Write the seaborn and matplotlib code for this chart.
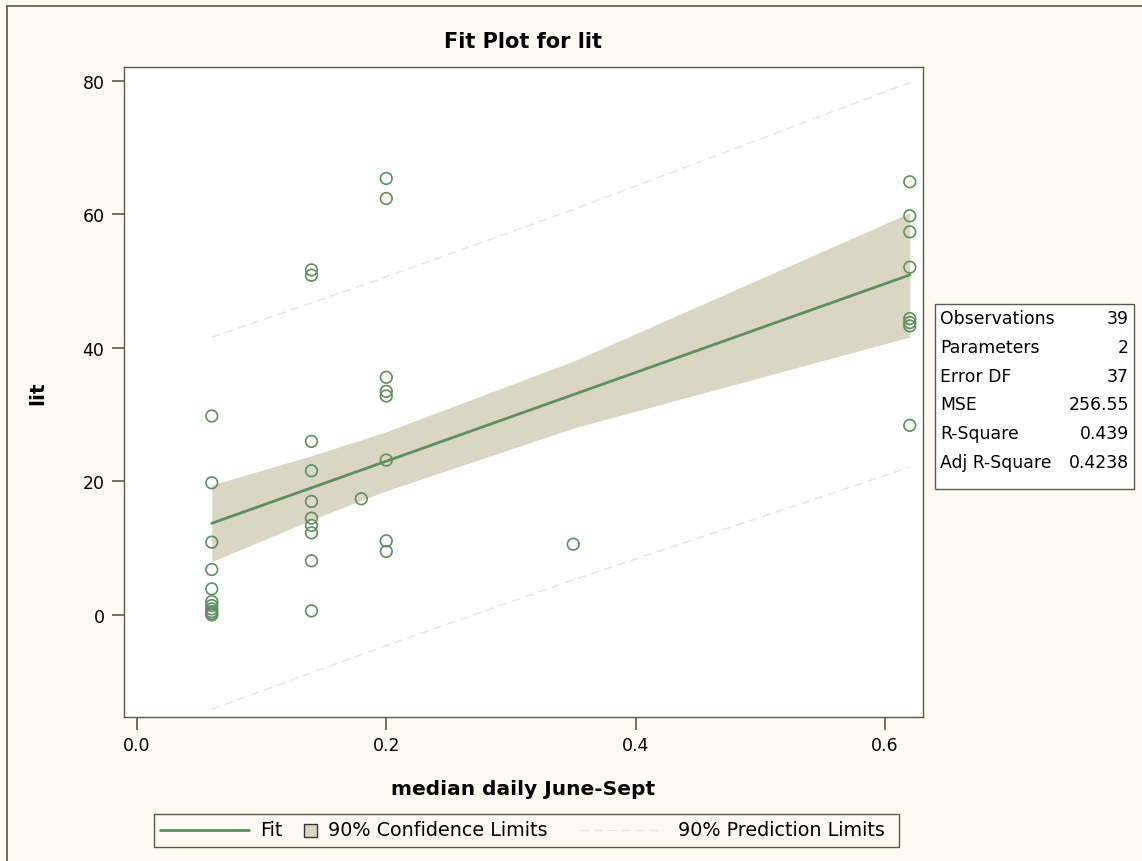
import numpy as np
import pandas as pd
import seaborn as sns
import matplotlib.pyplot as plt
from matplotlib.patches import Rectangle
from matplotlib.lines import Line2D

x_006 = [29.8, 19.8, 10.9, 6.8, 3.9, 2.0, 1.4, 0.9, 0.5, 0.2, 0.0]
x_014 = [51.7, 50.9, 26.0, 21.6, 17.0, 14.5, 13.4, 12.3, 8.1, 0.6]
x_018 = [17.4]
x_020 = [65.4, 62.4, 35.6, 33.5, 32.8, 23.2, 11.1, 9.5]
x_035 = [10.6]
x_062 = [64.9, 59.8, 57.4, 52.1, 44.4, 43.8, 43.3, 28.4]
groups = {0.06: x_006, 0.14: x_014, 0.18: x_018, 0.20: x_020, 0.35: x_035, 0.62: x_062}

stat_names = ["Observations", "Parameters", "Error DF", "MSE", "R-Square", "Adj R-Square"]
stat_values = ["39", "2", "37", "256.55", "0.439", "0.4238"]

x_ticks = [0.0, 0.2, 0.4, 0.6]
y_ticks = [0, 20, 40, 60, 80]

T_CRIT = 1.6871  # t(0.95, 37)

df = pd.DataFrame([(k, v) for k, vals in groups.items() for v in vals], columns=["x", "lit"])

# least squares fit, limits evaluated at the observed x values (like SAS does)
n = len(df)
xbar = df.x.mean()
sxx = ((df.x - xbar) ** 2).sum()
slope = ((df.x - xbar) * (df.lit - df.lit.mean())).sum() / sxx
icpt = df.lit.mean() - slope * xbar
resid = df.lit - (icpt + slope * df.x)
mse = (resid ** 2).sum() / (n - 2)
xs = np.array(sorted(groups.keys()))
fit = icpt + slope * xs
se_mean = np.sqrt(mse * (1 / n + (xs - xbar) ** 2 / sxx))
se_pred = np.sqrt(mse * (1 + 1 / n + (xs - xbar) ** 2 / sxx))
fit_df = pd.DataFrame({"x": xs, "fit": fit})

GREEN = "#5E8F5E"
BAND = "#DAD6C3"
FRAME = "#5B574C"
CREAM = "#FDFAF3"
PRED = "#E2E2E2"

sns.set_theme(style="white")
plt.rcParams["font.family"] = ["DejaVu Sans"]
plt.rcParams["text.color"] = "black"
plt.rcParams["axes.labelcolor"] = "black"

W, H = 1142, 862
fig = plt.figure(figsize=(W / 100, H / 100), dpi=100, facecolor=CREAM)


def fx(px):
    return px / W


def fy(py):
    return 1 - py / H


ax = fig.add_axes([fx(124), fy(718), fx(923) - fx(124), (718 - 68) / H])
ax.set_facecolor("white")

ax.fill_between(xs, fit - T_CRIT * se_mean, fit + T_CRIT * se_mean, color=BAND, lw=0, zorder=1)
ax.plot(xs, fit - T_CRIT * se_pred, color=PRED, lw=1, ls=(0, (6, 4)), zorder=1)
ax.plot(xs, fit + T_CRIT * se_pred, color=PRED, lw=1, ls=(0, (6, 4)), zorder=1)
sns.lineplot(data=fit_df, x="x", y="fit", color=GREEN, lw=2, ax=ax, zorder=2)
sns.scatterplot(data=df, x="x", y="lit", ax=ax, marker="o", s=70,
                facecolor="none", edgecolor=GREEN, linewidth=1.2, zorder=3)

ax.set_xlim(-0.0104, 0.6306)
ax.set_ylim(-15.3, 82.1)
ax.set_xticks(x_ticks)
ax.set_xticklabels([f"{t:.1f}" for t in x_ticks])
ax.set_yticks(y_ticks)
ax.tick_params(axis="both", which="major", direction="out", length=9, width=1.2,
               color=FRAME, labelsize=12.5, labelcolor="black", pad=5,
               bottom=True, left=True, top=False, right=False)
for s in ax.spines.values():
    s.set_color(FRAME)
    s.set_linewidth(1)

ax.set_xlabel("median daily June-Sept", fontsize=14.5, fontweight="bold")
ax.set_ylabel("lit", fontsize=14.5, fontweight="bold")
ax.xaxis.set_label_coords(0.5, (718 - 790) / 650)
ax.xaxis.label.set_va("center")
ax.yaxis.set_label_coords((38 - 124) / 799, 0.5)
ax.yaxis.label.set_va("center")

fig.text(fx(523), fy(42), "Fit Plot for lit", ha="center", va="center",
         fontsize=15, fontweight="bold")

# outer frame (left/top visible)
fig.add_artist(Line2D([fx(7), fx(7)], [fy(7), 0], color=FRAME, lw=1.2))
fig.add_artist(Line2D([fx(7), 1], [fy(7), fy(7)], color=FRAME, lw=1.2))

# statistics inset
fig.add_artist(Rectangle((fx(935), fy(490)), fx(1134) - fx(935), (490 - 305) / H,
                         transform=fig.transFigure, facecolor="white", edgecolor=FRAME, lw=1))
for i, (name, val) in enumerate(zip(stat_names, stat_values)):
    yy = fy(319 + 28.8 * i)
    fig.text(fx(940), yy, name, ha="left", va="center", fontsize=12.4)
    fig.text(fx(1129), yy, val, ha="right", va="center", fontsize=12.4)

# legend strip
fig.add_artist(Rectangle((fx(154), fy(848)), fx(899) - fx(154), (848 - 815) / H,
                         transform=fig.transFigure, facecolor=CREAM, edgecolor=FRAME, lw=1))
ly = fy(831)
fig.add_artist(Line2D([fx(160), fx(249)], [ly, ly], color=GREEN, lw=2))
fig.text(fx(260), ly, "Fit", ha="left", va="center", fontsize=13.8)
fig.add_artist(Rectangle((fx(304), fy(838)), fx(13), 13 / H, transform=fig.transFigure,
                         facecolor=BAND, edgecolor="#333333", lw=1))
fig.text(fx(328), ly, "90% Confidence Limits", ha="left", va="center", fontsize=13.8)
fig.add_artist(Line2D([fx(580), fx(664)], [ly, ly], color=PRED, lw=1, ls=(0, (6, 4))))
fig.text(fx(678), ly, "90% Prediction Limits", ha="left", va="center", fontsize=13.8)

fig.savefig("out.png", dpi=100, facecolor=CREAM)
